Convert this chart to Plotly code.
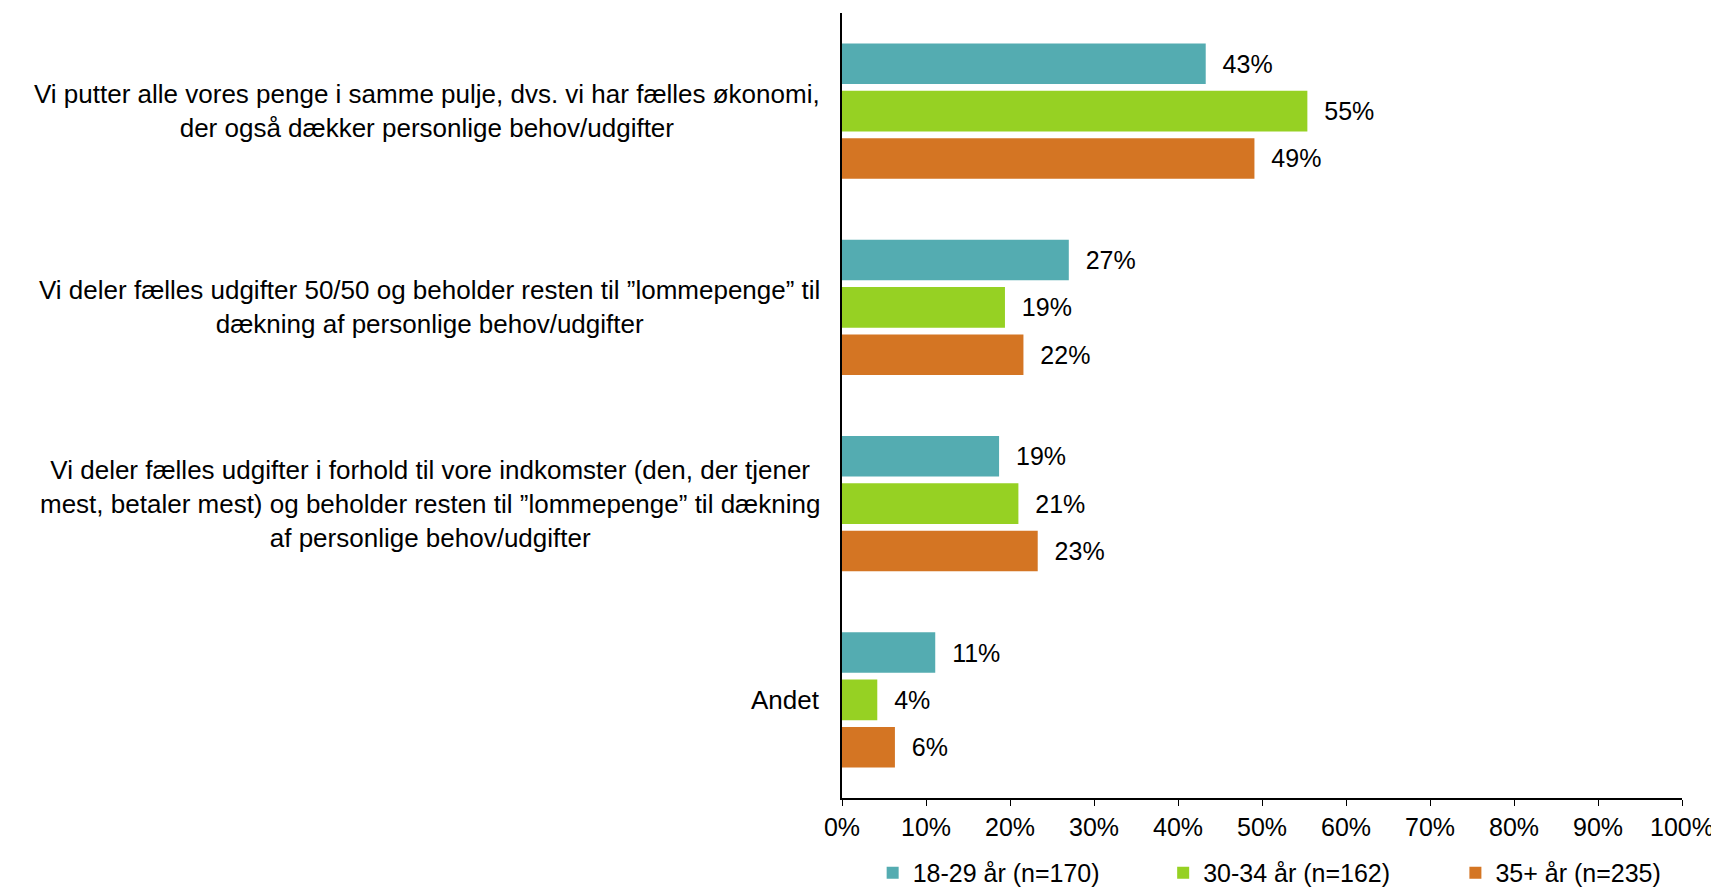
import plotly.graph_objects as go

categories = [
    "Vi putter alle vores penge i samme pulje, dvs. vi har fælles økonomi,<br>der også dækker personlige behov/udgifter",
    "Vi deler fælles udgifter 50/50 og beholder resten til ”lommepenge” til<br>dækning af personlige behov/udgifter",
    "Vi deler fælles udgifter i forhold til vore indkomster (den, der tjener<br>mest, betaler mest) og beholder resten til ”lommepenge” til dækning<br>af personlige behov/udgifter",
    "Andet",
]
series_names = ["18-29 år (n=170)", "30-34 år (n=162)", "35+ år (n=235)"]
age_18_29 = [43.3, 27.0, 18.7, 11.1]
age_30_34 = [55.4, 19.4, 21.0, 4.2]
age_35_plus = [49.1, 21.6, 23.3, 6.3]
colors = ["#54ACB1", "#96D123", "#D47523"]
legend_ids = ["legend", "legend2", "legend3"]
legend_x = [0.503, 0.672, 0.842]

fig = go.Figure()
for name, vals, col, lg in zip(series_names, [age_18_29, age_30_34, age_35_plus], colors, legend_ids):
    fig.add_trace(go.Bar(y=categories, x=vals, name=name, orientation='h', legend=lg,
                         marker=dict(color=col, line=dict(width=0)),
                         texttemplate='\u00a0\u00a0%{x:.0f}%', textposition='outside',
                         textfont=dict(size=25, color='#000000'), cliponaxis=False))

# category labels as centered multi-line annotations
for c in categories:
    fig.add_annotation(x=0, xref='paper', y=c, yref='y', text=c, showarrow=False,
                       xanchor='right', align='center', xshift=-20,
                       font=dict(size=26, color='#000000'))

# page body has an 8px margin, so margins are shifted to compensate
fig.update_layout(
    barmode='group', bargap=0.277, bargroupgap=0.143,
    width=1719, height=888,
    margin=dict(l=834, r=45, t=5, b=98, autoexpand=False),
    plot_bgcolor='white', paper_bgcolor='white',
    font=dict(family='Liberation Sans, Arial, sans-serif', size=25, color='#000000'),
    xaxis=dict(range=[0, 100], dtick=10, ticksuffix='%', showgrid=False, zeroline=False,
               showline=True, linecolor='#000000', linewidth=1.5, ticks='outside',
               ticklen=6, tickcolor='#000000', tickfont=dict(size=25)),
    yaxis=dict(autorange='reversed', showticklabels=False, showgrid=False, zeroline=False,
               showline=True, linecolor='#000000', linewidth=1.5, ticks=''),
    showlegend=True,
)
for lg, lx in zip(legend_ids, legend_x):
    fig.update_layout({lg: dict(orientation='h', xref='container', x=lx, xanchor='left',
                                yref='container', y=0.026, yanchor='middle',
                                bgcolor='rgba(0,0,0,0)', font=dict(size=25))})

fig.write_html("out.html")
